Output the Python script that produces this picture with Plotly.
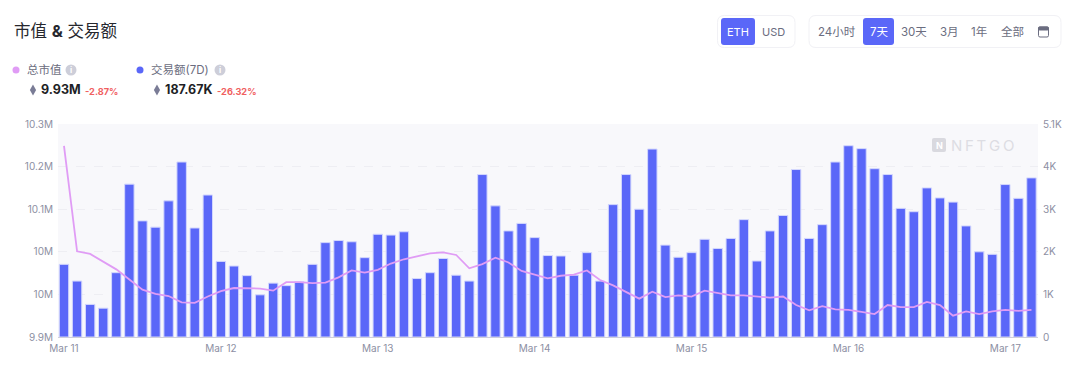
import pandas as pd
import plotly.graph_objects as go

# ---- data ----
start_time = "2022-03-11 00:00"
volume_k = [1.74,1.34,.78,.69,1.54,3.66,2.78,2.63,3.26,4.19,2.61,3.40,1.81,1.70,1.47,1.01,1.29,1.23,1.32,1.74,
            2.26,2.31,2.28,1.90,2.46,2.44,2.52,1.40,1.54,1.88,1.48,1.34,3.89,3.14,2.54,2.72,2.38,1.95,1.94,1.48,
            2.02,1.34,3.17,3.89,3.06,4.50,2.20,1.91,2.02,2.34,2.12,2.36,2.81,1.82,2.54,2.91,4.01,2.36,2.69,4.19,
            4.58,4.51,4.03,3.89,3.08,3.00,3.57,3.33,3.23,2.66,2.04,1.98,3.65,3.32,3.81]
market_cap_m = [10.259,10.061,10.056,10.042,10.027,10.008,9.989,9.981,9.977,9.965,9.964,9.976,9.986,9.992,9.991,
                9.991,9.987,10.003,10.003,10.001,10.002,10.012,10.025,10.021,10.026,10.038,10.046,10.051,10.057,
                10.059,10.054,10.029,10.037,10.049,10.040,10.024,10.017,10.010,10.015,10.017,10.025,10.007,9.997,
                9.984,9.972,9.985,9.975,9.978,9.976,9.987,9.983,9.978,9.978,9.976,9.974,9.976,9.960,9.950,9.958,
                9.952,9.951,9.947,9.943,9.960,9.956,9.956,9.966,9.960,9.940,9.948,9.943,9.948,9.951,9.949,9.951]
left_ticks = [9.9, 9.98, 10.06, 10.14, 10.22, 10.3]
left_labels = ["9.9M", "10M", "10M", "10.1M", "10.2M", "10.3M"]
right_ticks = [0, 1.02, 2.04, 3.06, 4.08, 5.1]
right_labels = ["0", "1K", "2K", "3K", "4K", "5.1K"]
date_ticks = ["2022-03-11", "2022-03-12", "2022-03-13", "2022-03-14", "2022-03-15", "2022-03-16", "2022-03-17"]
date_labels = ["Mar 11", "Mar 12", "Mar 13", "Mar 14", "Mar 15", "Mar 16", "Mar 17"]

times = pd.date_range(start_time, periods=len(volume_k), freq="2h")

# ---- style ----
BLUE = "#5A67F8"
PINK = "#E09CF5"
FONT = "Inter, 'Noto Sans CJK SC', sans-serif"
L, R, T, B = 58, 1038, 124, 337


def px(x):
    return (x - L) / (R - L)


def py(y):
    return (B - y) / (B - T)


fig = go.Figure()
fig.add_bar(x=times, y=volume_k, yaxis="y", name="交易额(7D)",
            marker=dict(color=BLUE, line=dict(color="#D3D7FD", width=1)))
fig.add_scatter(x=times, y=market_cap_m, yaxis="y2", mode="lines", name="总市值",
                line=dict(color=PINK, width=1.8))

shapes = []
annotations = []


def text(x, y, s, size=11, color="#6B6D80", anchor="left", bold=False):
    annotations.append(dict(x=px(x), y=py(y), xref="paper", yref="paper", text=f"<b>{s}</b>" if bold else s,
                            showarrow=False, xanchor=anchor, yanchor="middle", borderpad=0,
                            font=dict(size=size, color=color, family=FONT)))


def rrect(x0, y0, x1, y1, r, fill="rgba(0,0,0,0)", line="rgba(0,0,0,0)"):
    def P(a, b):
        return f"{px(a):.5f},{py(b):.5f}"
    path = (f"M{P(x0 + r, y0)} L{P(x1 - r, y0)} Q{P(x1, y0)} {P(x1, y0 + r)} L{P(x1, y1 - r)} "
            f"Q{P(x1, y1)} {P(x1 - r, y1)} L{P(x0 + r, y1)} Q{P(x0, y1)} {P(x0, y1 - r)} "
            f"L{P(x0, y0 + r)} Q{P(x0, y0)} {P(x0 + r, y0)} Z")
    shapes.append(dict(type="path", path=path, xref="paper", yref="paper", fillcolor=fill,
                       line=dict(color=line, width=1)))


def circle(cx, cy, r, fill):
    shapes.append(dict(type="circle", xref="paper", yref="paper", x0=px(cx - r), x1=px(cx + r),
                       y0=py(cy + r), y1=py(cy - r), fillcolor=fill, line=dict(width=0)))


def eth(cx, cy):
    def P(a, b):
        return f"{px(a):.5f},{py(b):.5f}"
    path = (f"M{P(cx, cy - 5.5)} L{P(cx + 3.1, cy)} L{P(cx, cy + 5.5)} L{P(cx - 3.1, cy)} Z")
    shapes.append(dict(type="path", path=path, xref="paper", yref="paper", fillcolor="#7A7C96", line=dict(width=0)))


text(13, 31, "市值 <b>&amp;</b> 交易额", size=16.5, color="#26272E")

circle(16, 70, 3.5, PINK)
text(26, 70, "总市值", size=11.5)
circle(71, 70, 5.5, "#CDCED9")
text(71, 70, "i", size=8, color="#FFFFFF", anchor="center", bold=True)
eth(33, 90)
text(39.5, 90, "9.93M", size=12.5, color="#1E1F26", bold=True)
text(83.5, 91, "-2.87%", size=9.2, color="#F0605F", bold=True)

circle(140, 70, 3.5, BLUE)
text(150, 70, "交易额(7D)", size=11.5)
circle(220, 70, 5.5, "#CDCED9")
text(220, 70, "i", size=8, color="#FFFFFF", anchor="center", bold=True)
eth(157, 90)
text(163.5, 90, "187.67K", size=12.5, color="#1E1F26", bold=True)
text(215.5, 91, "-26.32%", size=9.2, color="#F0605F", bold=True)

rrect(717.5, 15.5, 795, 47.5, 7, fill="#FFFFFF", line="#F1F1F5")
rrect(721, 18, 755, 45, 3, fill=BLUE)
text(738, 31.5, "ETH", size=11, color="#FFFFFF", anchor="center")
text(773, 31.5, "USD", size=11, anchor="center")

rrect(809, 15.5, 1061, 47.5, 7, fill="#FFFFFF", line="#F1F1F5")
rrect(863, 18, 894, 45, 3, fill=BLUE)
for label, cx, col in [("24小时", 837, "#6B6D80"), ("7天", 879, "#FFFFFF"), ("30天", 914, "#6B6D80"),
                       ("3月", 949, "#6B6D80"), ("1年", 979, "#6B6D80"), ("全部", 1012, "#6B6D80")]:
    text(cx, 31.5, label, size=11.5, color=col, anchor="center")
# calendar icon
rrect(1038.5, 27, 1048.5, 37, 1.5, line="#6B6D80")
rrect(1038.5, 27, 1048.5, 30, 1, fill="#6B6D80", line="#6B6D80")

# watermark
rrect(932, 138, 946, 152, 2, fill="#D9D9DF")
text(939, 145, "N", size=9, color="#FFFFFF", anchor="center", bold=True)
text(950, 145, "N\u2009F\u2009T\u2009G\u2009O", size=15, color="#DDDDE3")

fig.update_layout(
    width=1080, height=371, autosize=False,
    margin=dict(l=L, r=1080 - R, t=T, b=371 - B, pad=0),
    paper_bgcolor="#FFFFFF", plot_bgcolor="#F8F8FB",
    showlegend=False, bargap=0.28,
    font=dict(family=FONT, size=10, color="#8D8FA3"),
    shapes=shapes, annotations=annotations,
    xaxis=dict(type="date", range=["2022-03-10 23:05", "2022-03-17 05:00"], tickvals=date_ticks,
               ticktext=date_labels, showgrid=False, showline=True, linecolor="#CFCFDB", linewidth=1,
               ticks="", zeroline=False, ticklabelstandoff=2, tickfont=dict(size=10, color="#8D8FA3")),
    yaxis=dict(side="right", range=[0, 5.1], tickvals=right_ticks, ticktext=right_labels, showgrid=True,
               gridcolor="#EEEEF3", griddash="dash", gridwidth=1, zeroline=False, ticks="", ticklabelstandoff=4,
               tickfont=dict(size=10, color="#8D8FA3")),
    yaxis2=dict(side="left", overlaying="y", range=[9.9, 10.3], tickvals=left_ticks, ticktext=left_labels,
                showgrid=False, zeroline=False, ticks="", ticklabelstandoff=4,
                tickfont=dict(size=10, color="#8D8FA3")),
)

fig.write_html("out.html", config=dict(displayModeBar=False),
               post_script="document.body.style.margin='0';document.body.style.overflow='hidden';")
